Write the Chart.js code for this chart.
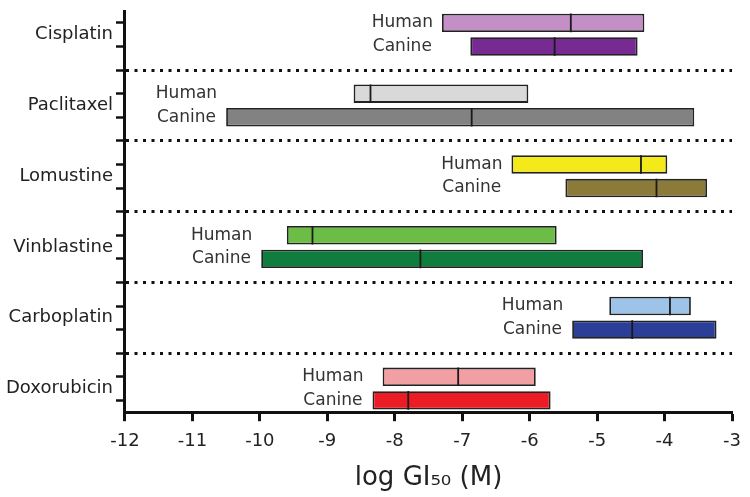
<!DOCTYPE html>
<html>
<head>
<meta charset="utf-8">
<script src="https://cdn.jsdelivr.net/npm/chart.js@4.4.1/dist/chart.umd.min.js"></script>
<style>
  html, body { margin: 0; padding: 0; background: #fff; }
  #wrap { width: 750px; height: 497px; }
</style>
</head>
<body>
<div id="wrap"><canvas id="gi50Chart"></canvas></div>
<script>
const drugs = ['Cisplatin', 'Paclitaxel', 'Lomustine', 'Vinblastine', 'Carboplatin', 'Doxorubicin'];
const speciesNames = ['Human', 'Canine'];

// log GI50 ranges [low, high] and medians
const humanRange = [[-7.30, -4.30], [-8.61, -6.02], [-6.27, -3.96], [-9.60, -5.60], [-4.82, -3.61], [-8.18, -5.91]];
const humanMedian = [-5.39, -8.36, -4.35, -9.22, -3.92, -7.06];
const canineRange = [[-6.88, -4.40], [-10.50, -3.56], [-5.47, -3.37], [-9.98, -4.32], [-5.37, -3.23], [-8.33, -5.69]];
const canineMedian = [-5.63, -6.86, -4.12, -7.62, -4.48, -7.80];

const humanColors = ['#c48fc6', '#d9d9d9', '#f4ea1a', '#6bbd45', '#9dc3e8', '#f29fa4'];
const canineColors = ['#772a92', '#828282', '#8b7a38', '#0f7d3d', '#2b3f98', '#eb1c24'];

const xMin = -12;
const xMax = -3;

// each drug takes 3 rows: human, canine, dotted separator
const rowOf = (d, s) => d * 3 + s;
const rowCount = drugs.length * 3 - 1;
const rows = Array.from({ length: rowCount }, (_, i) => i);
const separatorRows = drugs.slice(0, -1).map((_, d) => rowOf(d, 2));

const barData = [];
const barColors = [];
const medianData = [];
drugs.forEach((_, d) => {
    barData.push({ x: humanRange[d], y: rowOf(d, 0) });
    barColors.push(humanColors[d]);
    medianData.push({ x: humanMedian[d], y: rowOf(d, 0) });
    barData.push({ x: canineRange[d], y: rowOf(d, 1) });
    barColors.push(canineColors[d]);
    medianData.push({ x: canineMedian[d], y: rowOf(d, 1) });
});

// "Human" / "Canine" tags to the left of each pair of bars
const speciesLabels = {
    id: 'speciesLabels',
    afterDatasetsDraw(chart) {
        const { ctx, scales: { x, y } } = chart;
        ctx.save();
        ctx.font = '17px "DejaVu Sans"';
        ctx.fillStyle = '#333';
        ctx.textAlign = 'center';
        ctx.textBaseline = 'middle';
        const w = Math.max(...speciesNames.map(s => ctx.measureText(s).width));
        drugs.forEach((_, d) => {
            const left = x.getPixelForValue(Math.min(humanRange[d][0], canineRange[d][0]));
            const cx = left - 9 - w / 2;
            speciesNames.forEach((s, k) => {
                ctx.fillText(s, cx, y.getPixelForValue(rowOf(d, k)));
            });
        });
        ctx.restore();
    }
};

const noEdgePadding = axis => {
    axis.paddingTop = 0;
    axis.paddingBottom = 0;
};

Chart.defaults.font.family = '"DejaVu Sans", Verdana, sans-serif';
Chart.defaults.color = '#222';

new Chart(document.getElementById('gi50Chart'), {
    type: 'bar',
    data: {
        datasets: [{
            type: 'scatter',
            order: 1,
            data: medianData,
            pointStyle: 'line',
            pointRotation: 90,
            pointRadius: 9.3,
            pointHoverRadius: 9.3,
            pointBorderColor: '#1a1a1a',
            pointBorderWidth: 1.8,
            xAxisID: 'x',
            yAxisID: 'y'
        }, {
            type: 'bar',
            order: 2,
            data: barData,
            backgroundColor: barColors,
            borderColor: '#222',
            borderWidth: 1.8,
            borderSkipped: false,
            barPercentage: 0.78,
            categoryPercentage: 1,
            xAxisID: 'x',
            yAxisID: 'y'
        }]
    },
    options: {
        indexAxis: 'y',
        responsive: true,
        maintainAspectRatio: false,
        animation: false,
        events: [],
        layout: { padding: { top: 4, right: 15, bottom: 0, left: 3 } },
        plugins: {
            legend: { display: false },
            tooltip: { enabled: false }
        },
        scales: {
            x: {
                type: 'linear',
                position: 'bottom',
                offset: false,
                min: xMin,
                max: xMax,
                ticks: { stepSize: 1, font: { size: 18 }, color: '#222', padding: 9 },
                grid: { offset: false, drawOnChartArea: false, tickColor: '#111', tickWidth: 3, tickLength: 9 },
                border: { color: '#111', width: 3 },
                title: {
                    display: true,
                    text: 'log GI₅₀ (M)',
                    font: { size: 26 },
                    color: '#222',
                    padding: { top: 2, bottom: 3 }
                }
            },
            y: {
                type: 'linear',
                position: 'left',
                offset: false,
                reverse: true,
                min: -0.5,
                max: rowCount - 0.5,
                weight: 0,
                afterBuildTicks: axis => { axis.ticks = rows.map(v => ({ value: v })); },
                afterFit: noEdgePadding,
                ticks: { display: false },
                grid: {
                    offset: false,
                    drawOnChartArea: true,
                    color: ctx => (ctx.tick && separatorRows.includes(ctx.tick.value)) ? '#111' : 'rgba(0,0,0,0)',
                    lineWidth: 3,
                    tickColor: '#111',
                    tickWidth: 2.5,
                    tickLength: 9
                },
                border: { color: '#111', width: 3, dash: [3, 5.5] }
            },
            yNames: {
                type: 'linear',
                position: 'left',
                offset: false,
                reverse: true,
                min: -0.5,
                max: rowCount - 0.5,
                weight: 1,
                afterBuildTicks: axis => { axis.ticks = drugs.map((_, d) => ({ value: rowOf(d, 0.5) })); },
                afterFit: noEdgePadding,
                ticks: {
                    autoSkip: false,
                    callback: (v, i) => drugs[i],
                    font: { size: 18 },
                    color: '#222',
                    padding: 3
                },
                grid: { display: false, drawTicks: false },
                border: { display: false }
            }
        }
    },
    plugins: [speciesLabels]
});
</script>
</body>
</html>
